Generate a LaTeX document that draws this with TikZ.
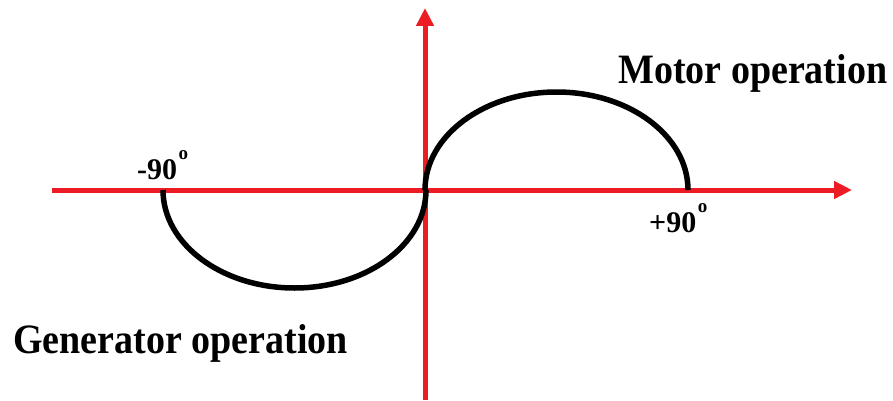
\documentclass[tikz,border=0pt]{standalone}
\usepackage{fontspec}
\setmainfont{Liberation Serif}
\usetikzlibrary{arrows.meta}
\definecolor{axred}{RGB}{237,28,36}
\newcommand{\degring}{\hspace{1.5pt}\raisebox{20pt}{\fontsize{19}{19}\selectfont\bfseries o}}
\tikzset{
  axis/.style={draw=axred, line width=5pt, -{Triangle[length=18pt,width=17pt]}},
  lobe/.style={draw=black, line width=5.5pt},
  bigtext/.style={inner sep=0pt, font=\fontsize{38}{40}\selectfont\bfseries},
  ticktext/.style={inner sep=0pt, font=\fontsize{30}{32}\selectfont\bfseries}
}
\begin{document}
\begin{tikzpicture}[x=1pt,y=1pt]
\useasboundingbox (0,0) rectangle (893,400);
\coordinate (O) at (425,210);
\coordinate (xl) at (52,210);
\coordinate (xr) at (852,210);
\coordinate (yb) at (425,0);
\coordinate (yt) at (425,392);
\coordinate (L) at (163,210);
\draw[axis] (xl) -- (xr);
\draw[axis] (yb) -- (yt);
\draw[lobe] (O) arc[start angle=180, end angle=0, x radius=131.5pt, y radius=98pt];
\draw[lobe] (L) arc[start angle=180, end angle=360, x radius=131.5pt, y radius=98pt];
\node[bigtext, anchor=base west] (motor) at (618,317) {\scalebox{1}[1.1]{Motor operation}};
\node[bigtext, anchor=base west] (gen) at (13,47) {\scalebox{1}[1.1]{Generator operation}};
\node[ticktext, anchor=base west] (m90) at (137,221) {-90\degring};
\node[ticktext, anchor=base west] (p90) at (649,168) {+90\degring};
\end{tikzpicture}
\end{document}
